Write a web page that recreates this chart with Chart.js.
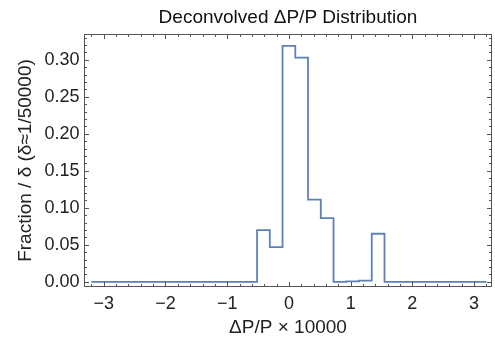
<!DOCTYPE html>
<html>
<head>
<meta charset="utf-8">
<script src="https://cdn.jsdelivr.net/npm/chart.js@4.4.0/dist/chart.umd.min.js"></script>
<style>
  html, body { margin: 0; padding: 0; background: #fff; }
  #wrap { width: 495px; height: 341px; }
</style>
</head>
<body>
<div id="wrap"><canvas id="histChart"></canvas></div>
<script>
// histogram range and bins (ΔP/P × 10000)
const binLo = -3.2;
const binHi = 3.2;
const binCount = 31;

// fraction / δ per bin
const binValues = [
  0, 0, 0, 0, 0, 0, 0, 0, 0, 0,
  0, 0, 0, 0.070, 0.047, 0.319, 0.303, 0.111, 0.086, 0,
  0.0005, 0.0015, 0.065, 0, 0, 0, 0, 0, 0, 0,
  0
];

const xMajorTicks = [-3, -2, -1, 0, 1, 2, 3];
const yMajorTicks = [0, 0.05, 0.10, 0.15, 0.20, 0.25, 0.30];

const FONT = "'Liberation Sans', Arial, sans-serif";
const LINE_BLUE = '#5e81b5';

// step outline: both corners of every bin
const binWidth = (binHi - binLo) / binCount;
const stepPoints = [];
binValues.forEach((v, i) => {
  stepPoints.push({ x: binLo + i * binWidth, y: v });
  stepPoints.push({ x: binLo + (i + 1) * binWidth, y: v });
});

// frame with inward ticks on all four sides
const frameTicks = {
  id: 'frameTicks',
  afterDraw(chart) {
    const { ctx, chartArea: a, scales } = chart;
    const xs = scales.x, ys = scales.y;
    ctx.save();
    ctx.strokeStyle = '#555';
    ctx.lineWidth = 1;
    ctx.strokeRect(a.left + 0.5, a.top + 0.5, a.right - a.left - 1, a.bottom - a.top - 1);
    ctx.beginPath();
    // x ticks, minor every 0.2
    for (let k = -17; k <= 17; k++) {
      const v = k * 0.2;
      const px = Math.round(xs.getPixelForValue(v)) + 0.5;
      if (px < a.left + 1 || px > a.right - 1) continue;
      const len = (k % 5 === 0) ? 5 : 3;
      ctx.moveTo(px, a.bottom); ctx.lineTo(px, a.bottom - len);
      ctx.moveTo(px, a.top); ctx.lineTo(px, a.top + len);
    }
    // y ticks, minor every 0.01
    for (let k = 0; k <= 33; k++) {
      const v = k * 0.01;
      const py = Math.round(ys.getPixelForValue(v)) + 0.5;
      if (py < a.top + 1 || py > a.bottom - 1) continue;
      const len = (k % 5 === 0) ? 5 : 3;
      ctx.moveTo(a.left, py); ctx.lineTo(a.left + len, py);
      ctx.moveTo(a.right, py); ctx.lineTo(a.right - len, py);
    }
    ctx.stroke();
    ctx.restore();
  }
};

document.addEventListener('DOMContentLoaded', function () {
  const ctx = document.getElementById('histChart').getContext('2d');

  const config = {
    type: 'line',
    data: {
      datasets: [{
        label: 'Deconvolved',
        data: stepPoints,
        borderColor: LINE_BLUE,
        borderWidth: 1.8,
        borderJoinStyle: 'miter',
        pointRadius: 0,
        fill: false,
        tension: 0
      }]
    },
    options: {
      responsive: true,
      maintainAspectRatio: false,
      animation: false,
      layout: { padding: { left: 4, right: 3, top: 0, bottom: 2 } },
      plugins: {
        legend: { display: false },
        tooltip: { enabled: false },
        title: {
          display: true,
          fullSize: false,
          text: 'Deconvolved ΔP/P Distribution',
          color: '#111',
          font: { family: FONT, size: 19, weight: 'normal' },
          padding: { top: 6.5, bottom: 4.7 }
        }
      },
      scales: {
        x: {
          type: 'linear',
          min: -3.32,
          max: 3.29,
          afterBuildTicks: s => { s.ticks = xMajorTicks.map(v => ({ value: v })); },
          afterFit: s => { s.height = 52; },
          grid: { display: false, drawTicks: false },
          border: { display: false },
          ticks: {
            color: '#222',
            padding: 6,
            maxRotation: 0,
            font: { family: FONT, size: 18 },
            callback: v => String(v).replace('-', '\u2212')
          },
          title: {
            display: true,
            text: 'ΔP/P × 10000',
            color: '#222',
            font: { family: FONT, size: 19 },
            padding: { top: 2, bottom: 0 }
          }
        },
        y: {
          type: 'linear',
          min: -0.007,
          max: 0.335,
          afterBuildTicks: s => { s.ticks = yMajorTicks.map(v => ({ value: v })); },
          afterFit: s => { s.width = 80; },
          grid: { display: false, drawTicks: false },
          border: { display: false },
          ticks: {
            color: '#222',
            padding: 4.5,
            font: { family: FONT, size: 18 },
            callback: v => v.toFixed(2)
          },
          title: {
            display: true,
            text: 'Fraction / δ (δ≈1/50000)',
            color: '#222',
            font: { family: FONT, size: 19 },
            padding: { top: 10, bottom: 0 }
          }
        }
      }
    },
    plugins: [frameTicks]
  };

  new Chart(ctx, config);
});
</script>
</body>
</html>
